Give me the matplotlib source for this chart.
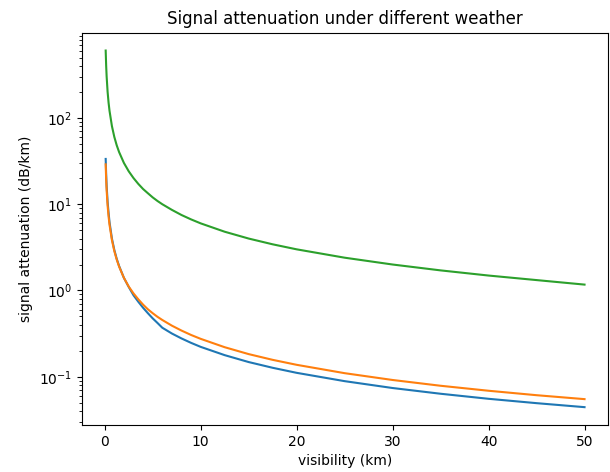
import matplotlib
matplotlib.use('Agg')
import matplotlib.pyplot as plt

# visibility (km) and attenuation (dB/km)
visibility = [0.1, 0.15, 0.2, 0.3, 0.4, 0.5, 0.75, 1, 1.25, 1.5, 2, 2.5, 3, 3.5, 4, 4.5,
              5, 5.5, 6, 7, 8, 9, 10, 12.5, 15, 17.5, 20, 25, 30, 35, 40, 45, 50]
atten_blue = [33.5, 22.2, 16.3, 10.7, 8.0, 6.2, 4.0, 2.95, 2.33, 1.92, 1.40, 1.10, 0.88, 0.74,
              0.63, 0.545, 0.475, 0.42, 0.37, 0.317, 0.278, 0.247, 0.222, 0.178, 0.148, 0.127,
              0.111, 0.0889, 0.074, 0.0635, 0.0555, 0.0494, 0.0444]
atten_orange = [29.0, 19.3, 14.5, 9.65, 7.24, 5.78, 3.84, 2.86, 2.28, 1.89, 1.40, 1.11, 0.925,
                0.79, 0.685, 0.605, 0.545, 0.495, 0.455, 0.391, 0.343, 0.305, 0.275, 0.220,
                0.183, 0.157, 0.1375, 0.110, 0.0917, 0.0786, 0.0688, 0.0611, 0.055]
atten_green = [605, 403, 302, 201, 151, 121, 80.5, 60.3, 48.2, 40.2, 30.1, 24.1, 20.1, 17.2,
               15.0, 13.4, 12.0, 10.9, 10.0, 8.6, 7.5, 6.67, 6.0, 4.8, 4.0, 3.43, 3.0, 2.4,
               2.0, 1.71, 1.49, 1.32, 1.17]

fig = plt.figure(figsize=(6.1, 4.72), dpi=100)
ax = fig.add_axes([0.134, 0.0996, 0.8635, 0.8311])

ax.plot(visibility, atten_blue)
ax.plot(visibility, atten_orange)
ax.plot(visibility, atten_green)
ax.set_yscale('log')

ax.set_title('Signal attenuation under different weather')
ax.set_xlabel('visibility (km)')
ax.set_ylabel('signal attenuation (dB/km)')

fig.savefig('out.png', dpi=100)
